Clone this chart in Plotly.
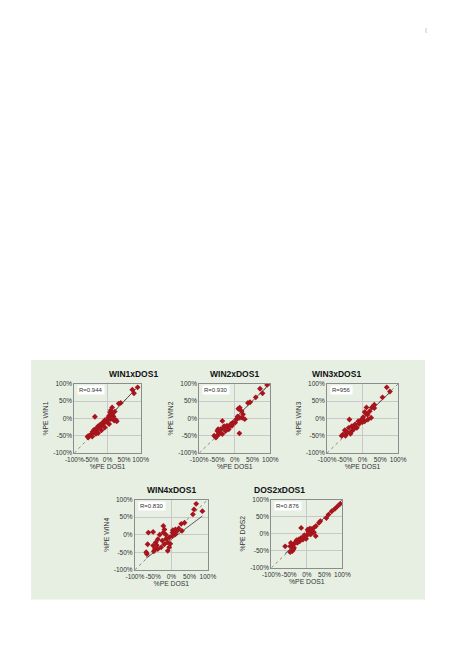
import plotly.graph_objects as go

# ---- data (values in %) ----
titles = ["WIN1xDOS1", "WIN2xDOS1", "WIN3xDOS1", "WIN4xDOS1", "DOS2xDOS1"]
y_titles = ["%PE WIN1", "%PE WIN2", "%PE WIN3", "%PE WIN4", "%PE DOS2"]
x_title = "%PE DOS1"
r_labels = ["R=0.944", "R=0.930", "R=956", "R=0.830", "R=0.876"]
tick_vals = [-100, -50, 0, 50, 100]
tick_text = ["-100%", "-50%", "0%", "50%", "100%"]

win1_x = [91, 75, 80, 40, 34, 14, 10, 8, 12, 15, 18, 22, 5, 2, 10, 20, 25, 0, -5, -8, -12, -15, -18, -22, -25,
          -28, -30, -33, -36, -40, -42, -45, -48, -52, -55, -58, -60, -38, -28, -18, -8, 5, 28, -35, -46]
win1_y = [90, 83, 73, 45, 43, 32, 24, 18, 15, 10, 6, 20, 8, 3, -2, -6, -4, -6, -10, -5, -14, -12, -20, -18, -25,
          -22, -30, -28, -36, -32, -40, -38, -45, -48, -50, -55, -52, 5, -42, -34, -26, -16, -8, -44, -52]

win2_x = [91, 71, 78, 59, 43, 37, 14, 10, 19, 23, 21, 28, 14, 5, -5, -13, -22, -31, -40, -49, -58, -53, -44,
          -35, -26, -35, 13, -17, -8, 1, -43, -50, -47, -20, -30, 8, -10]
win2_y = [97, 86, 73, 61, 47, 45, 31, 28, 21, 12, 2, -2, 2, -3, -12, -19, -21, -26, -31, -36, -50, -55, -45,
          -45, -36, -7, -43, -31, -21, -12, -40, -50, -31, -26, -22, 6, -15]

win3_x = [68, 77, 56, 33, 26, 11, 20, 6, 14, 2, -3, -12, -21, -30, -39, -50, -55, -59, -48, -37, -30, -7, 6,
          24, 15, -16, -25, -43, -34, 33, -45, -20, 10, 0, -10]
win3_y = [90, 78, 61, 40, 32, 32, 21, 19, 11, 4, -3, -8, -17, -22, -27, -34, -46, -50, -50, -3, -36, -12, -8,
          2, -3, -27, -31, -41, -44, 30, -38, -24, 14, -10, -16]

win4_x = [68, 62, 85, 59, 36, 27, 11, 4, 16, 3, 3, -6, -15, -19, -22, -32, -37, -43, -50, -45, -37, -48, -28,
          -19, -10, -6, -10, -63, -50, -65, -69, -67, -25, 11, 29, -22, -3, -40, -15, 20]
win4_y = [88, 72, 67, 58, 34, 31, 15, 13, 11, 6, -3, -8, 0, 15, 6, 0, -13, -22, -31, -41, -41, -47, -36,
          -27, -22, -36, -46, 6, 8, -27, -50, -55, -17, 1, 11, 25, -26, -30, -12, 18]

dos2_x = [94, 86, 79, 70, 61, 55, 38, 34, 25, 19, 13, 9, 4, 16, 7, 11, 0, -7, -16, -16, -23, -29, -34, -38,
          -43, -36, -41, -47, -45, -27, -20, -11, -2, 25, -47, -38, 20, 2, -7, -61, 8, 12, 5]
dos2_y = [88, 80, 73, 66, 56, 46, 37, 32, 22, 17, 12, 10, 7, 7, 0, -2, -5, -9, 17, -12, -17, -19, -27, -32,
          -37, -41, -51, -37, -27, -27, -22, -17, -15, -7, -54, -46, 4, 12, -4, -37, 15, 14, 3]

# trend lines (slope, intercept)
fit_slope = [1.0, 1.02, 0.98, 0.78, 0.95]
fit_intercept = [0, 0, 0, -13, 0]

series_x = [win1_x, win2_x, win3_x, win4_x, dos2_x]
series_y = [win1_y, win2_y, win3_y, win4_y, dos2_y]

# ---- layout geometry (pixels) ----
W, H = 459, 650
boxes = [(68, 137, 384, 454), (198, 272, 384, 454), (331, 405, 384, 454),
         (131, 207, 501, 572), (273, 347, 501, 570)]

FONT = "Liberation Sans, Arial, sans-serif"
RED = "#A8141C"

fig = go.Figure()
layout = dict(
    width=W, height=H, margin=dict(l=0, r=0, t=0, b=0),
    paper_bgcolor="white", plot_bgcolor="white", showlegend=False,
    font=dict(family=FONT, size=6, color="#333333"),
    annotations=[], shapes=[],
)

# green panel
layout["shapes"].append(dict(type="rect", xref="paper", yref="paper",
                             x0=23 / W, x1=433 / W, y0=1 - 602 / H, y1=1 - 360 / H,
                             fillcolor="#E7EFE3", line=dict(width=0), layer="below"))

for i in range(5):
    n = i + 1
    xs = "x" if n == 1 else f"x{n}"
    ys = "y" if n == 1 else f"y{n}"
    x0, x1, y0, y1 = boxes[i]
    xd = [x0 / W, x1 / W]
    yd = [1 - y1 / H, 1 - y0 / H]
    xa = dict(domain=xd, range=[-100, 100], anchor=ys, tickvals=tick_vals, ticktext=tick_text,
              showgrid=False, zeroline=True, zerolinecolor="#C8C8C8", zerolinewidth=1,
              showline=True, mirror=True, linecolor="#8C8C8C", linewidth=1,
              ticks="", tickangle=0, tickfont=dict(size=6.5, color="#333333"),
              title=dict(text=x_title, font=dict(size=6.8, color="#333333"), standoff=2),
              fixedrange=True)
    ya = dict(domain=yd, range=[-100, 100], anchor=xs, tickvals=tick_vals, ticktext=tick_text,
              showgrid=True, gridcolor="#C8C8C8", gridwidth=1, zeroline=False,
              showline=True, mirror=True, linecolor="#8C8C8C", linewidth=1,
              ticks="", tickfont=dict(size=6.5, color="#333333"),
              title=dict(text=y_titles[i], font=dict(size=6.8, color="#333333"), standoff=3),
              fixedrange=True)
    layout["xaxis" if n == 1 else f"xaxis{n}"] = xa
    layout["yaxis" if n == 1 else f"yaxis{n}"] = ya

    # dotted identity line
    fig.add_trace(go.Scatter(x=[tick_vals[0], tick_vals[-1]], y=[tick_vals[0], tick_vals[-1]],
                             mode="lines", line=dict(color="#707070", width=0.8, dash="dot"),
                             xaxis=xs, yaxis=ys, hoverinfo="skip"))
    # trend line across data range
    lo, hi = min(series_x[i]), max(series_x[i])
    fig.add_trace(go.Scatter(x=[lo, hi],
                             y=[fit_slope[i] * lo + fit_intercept[i], fit_slope[i] * hi + fit_intercept[i]],
                             mode="lines", line=dict(color="#333333", width=0.8),
                             xaxis=xs, yaxis=ys, hoverinfo="skip"))
    # points
    fig.add_trace(go.Scatter(x=series_x[i], y=series_y[i], mode="markers",
                             marker=dict(symbol="diamond", size=4.5, color=RED, line=dict(width=0)),
                             xaxis=xs, yaxis=ys))
    # title
    layout["annotations"].append(dict(text=f"<b>{titles[i]}</b>", xref="paper", yref="paper",
                                      x=(xd[0] + xd[1]) / 2, y=yd[1], yanchor="bottom", yshift=3,
                                      showarrow=False, font=dict(size=8.5, color="#111111")))
    # R label
    layout["annotations"].append(dict(text=r_labels[i], xref=f"{xs} domain", yref=f"{ys} domain",
                                      x=0.04, y=0.985, xanchor="left", yanchor="top",
                                      showarrow=False, bgcolor="white",
                                      font=dict(size=6, color="#333333")))

# small stray mark at top right of the page
layout["annotations"].append(dict(text="(", xref="paper", yref="paper", x=437 / W, y=1 - 21 / H,
                                  showarrow=False, font=dict(size=6, color="#999999")))

fig.update_layout(**layout)
fig.write_html("out.html", config={"displayModeBar": False},
               post_script="document.body.style.margin='0';")
